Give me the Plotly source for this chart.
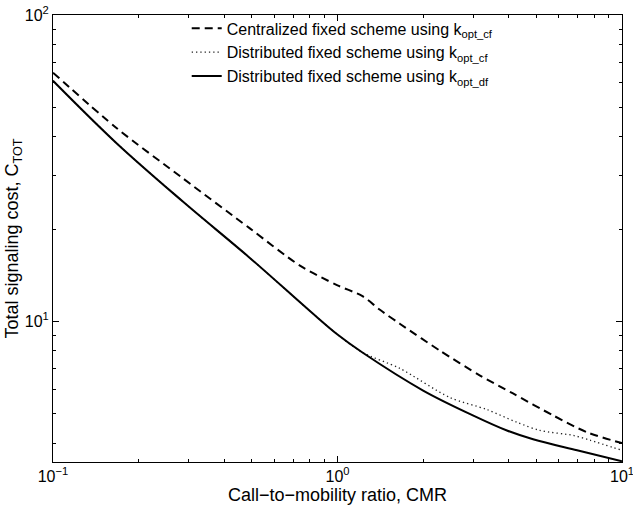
import plotly.graph_objects as go

# Centralized fixed scheme using k_opt_cf (dashed)
cmr_cf = [0.1, 0.168, 0.286, 0.492, 0.738, 1.0, 1.22, 1.41, 1.66, 2.29, 3.17, 4.14, 5.72, 7.54, 10.0]
cost_cf = [64.8, 42.6, 29.3, 20.1, 15.2, 13.1, 12.1, 10.9, 9.8, 8.02, 6.65, 5.81, 4.93, 4.34, 4.0]

# Distributed fixed scheme using k_opt_df (solid)
cmr_df = [0.1, 0.168, 0.286, 0.492, 0.80, 1.0, 1.22, 2.0, 2.99, 3.94, 4.87, 6.95, 10.0]
cost_df = [61.0, 38.0, 24.6, 16.1, 10.8, 9.05, 7.92, 5.94, 4.93, 4.40, 4.12, 3.79, 3.49]

# Distributed fixed scheme using k_opt_cf (dotted) - coincides with solid below CMR ~1.2
cmr_dcf = [0.1, 0.168, 0.286, 0.492, 0.80, 1.0, 1.22, 1.66, 2.48, 3.35, 4.27, 5.15, 6.73, 7.72, 10.0]
cost_dcf = [61.0, 38.0, 24.6, 16.1, 10.8, 9.05, 7.92, 7.01, 5.64, 5.15, 4.68, 4.40, 4.24, 4.09, 3.79]

x_tickvals = [0.1, 1, 10]
x_ticktext = ["10<sup>\u22121</sup>", "10<sup>0</sup>", "10<sup>1</sup>"]
y_tickvals = [10, 100]
y_ticktext = ["10<sup>1</sup>", "10<sup>2</sup>"]

names = [
    "Centralized fixed scheme using k<sub>opt_cf</sub>",
    "Distributed fixed scheme using k<sub>opt_cf</sub>",
    "Distributed fixed scheme using k<sub>opt_df</sub>",
]

FONT = "Liberation Sans, Arial, Helvetica, sans-serif"

fig = go.Figure()
fig.add_trace(go.Scatter(x=cmr_cf, y=cost_cf, mode="lines", name=names[0],
                         line=dict(color="black", width=2, dash="8px,5px",
                                   shape="spline", smoothing=0.8)))
fig.add_trace(go.Scatter(x=cmr_dcf, y=cost_dcf, mode="lines", name=names[1],
                         line=dict(color="#222222", width=1.3, dash="1.3px,3px",
                                   shape="spline", smoothing=0.8)))
fig.add_trace(go.Scatter(x=cmr_df, y=cost_df, mode="lines", name=names[2],
                         line=dict(color="black", width=2,
                                   shape="spline", smoothing=1.0)))

axis_common = dict(
    type="log", showgrid=False, zeroline=False, automargin=False,
    showline=True, linecolor="black", linewidth=1, mirror="ticks",
    ticks="inside", ticklen=6, tickcolor="black", tickwidth=1,
    tickfont=dict(family=FONT, size=16, color="black"),
    ticklabeloverflow="allow",
    minor=dict(ticks="inside", ticklen=3, tickcolor="black", dtick="D1", showgrid=False),
)

fig.update_xaxes(**axis_common, range=[-1, 1],
                 tickmode="array", tickvals=x_tickvals, ticktext=x_ticktext,
                 title=dict(text="Call\u2212to\u2212mobility ratio, CMR",
                            font=dict(family=FONT, size=18, color="black"), standoff=4))
fig.update_yaxes(**axis_common, range=[0.5405, 2],
                 tickmode="array", tickvals=y_tickvals, ticktext=y_ticktext,
                 title=dict(text="Total signaling cost, C<sub>TOT</sub>",
                            font=dict(family=FONT, size=18, color="black"), standoff=0))

fig.update_layout(
    width=633, height=512,
    margin=dict(l=53, r=11, t=13, b=50),
    paper_bgcolor="white", plot_bgcolor="white",
    font=dict(family=FONT, size=16, color="black"),
    showlegend=True,
    legend=dict(x=0.235, y=1.008, xanchor="left", yanchor="top",
                bgcolor="rgba(0,0,0,0)", borderwidth=0,
                font=dict(family=FONT, size=16, color="black"),
                tracegroupgap=0, itemwidth=30),
)

fig.write_html("out.html", config={"displayModeBar": False},
               post_script="document.body.style.margin='0px';document.body.style.padding='0px';")
